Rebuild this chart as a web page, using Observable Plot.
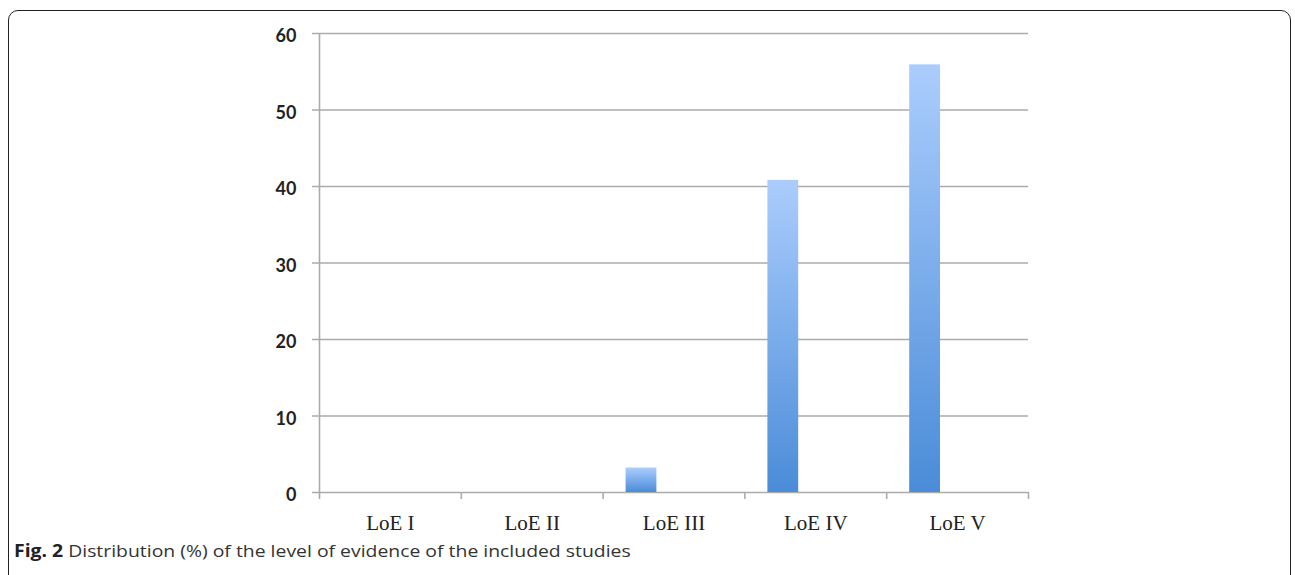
<!DOCTYPE html>
<html>
<head>
<meta charset="utf-8">
<script src="https://cdn.jsdelivr.net/npm/d3@7"></script>
<script src="https://cdn.jsdelivr.net/npm/@observablehq/plot@0.6"></script>
<style>
  html, body { margin: 0; padding: 0; background: #fff; }
  #wrap { position: relative; width: 1295px; height: 575px; overflow: hidden; }
  #frame { position: absolute; left: 8px; top: 10px; width: 1283px; height: 575px;
           border: 1.5px solid #222; border-radius: 10px; box-sizing: border-box; }
  #chart { position: absolute; left: 0; top: 0; }
  #caption { position: absolute; left: 14px; top: 539px; font-family: "Open Sans", sans-serif;
             font-size: 17px; color: #333; white-space: nowrap;
             transform: scaleX(1.14); transform-origin: left top; }
  #caption b { color: #222; }
</style>
</head>
<body>
<div id="wrap">
  <div id="frame"></div>
  <div id="chart"></div>
  <div id="caption"><b>Fig. 2</b> Distribution (%) of the level of evidence of the included studies</div>
</div>
<script>
const categories = ["LoE I", "LoE II", "LoE III", "LoE IV", "LoE V"];
const values = [0, 0, 3.2, 40.8, 55.9];
const yTicks = [0, 10, 20, 30, 40, 50, 60];

const data = categories.map((c, i) => ({ cat: c, i, value: values[i] }));
const bars = data.filter(d => d.value > 0);
const boundaries = d3.range(categories.length + 1);

const plot = Plot.plot({
  width: 1295,
  height: 575,
  marginLeft: 319,
  marginRight: 267,
  marginTop: 33,
  marginBottom: 83,
  x: { type: "linear", domain: [0, categories.length], axis: null },
  y: { domain: [0, 60], axis: null },
  style: { background: "transparent" },
  marks: [
    Plot.ruleY(yTicks, { x1: 0, x2: categories.length, stroke: "#ababab", strokeWidth: 1.6, insetLeft: -7 }),
    Plot.ruleX([0], { y1: 0, y2: 60, stroke: "#ababab", strokeWidth: 1.6 }),
    Plot.rectY(bars, { x1: d => d.i, x2: d => d.i + 1, y: "value", fill: "url(#barGrad)", insetLeft: 23, insetRight: 88 }),
    Plot.ruleX(boundaries, { y1: 0, y2: 0, stroke: "#ababab", strokeWidth: 1.6, insetBottom: -7 }),
    Plot.text(yTicks, { x: 0, y: d => d, text: d => String(d), textAnchor: "end", dx: -23, dy: 3,
      fontFamily: "Lato, sans-serif", fontWeight: "bold", fontSize: 18, fill: "#222" }),
    Plot.text(data, { x: d => d.i + 0.5, y: 0, text: "cat", dy: 31,
      fontFamily: "'Liberation Serif', serif", fontSize: 21, fill: "#222" })
  ]
});

const svg = d3.select(plot);
const defs = svg.insert("defs", ":first-child");
const g = defs.append("linearGradient").attr("id", "barGrad")
  .attr("x1", 0).attr("y1", 0).attr("x2", 0).attr("y2", 1);
g.append("stop").attr("offset", "0%").attr("stop-color", "#abcdfd");
g.append("stop").attr("offset", "100%").attr("stop-color", "#4a8cd8");

document.getElementById("chart").appendChild(plot);
</script>
</body>
</html>
